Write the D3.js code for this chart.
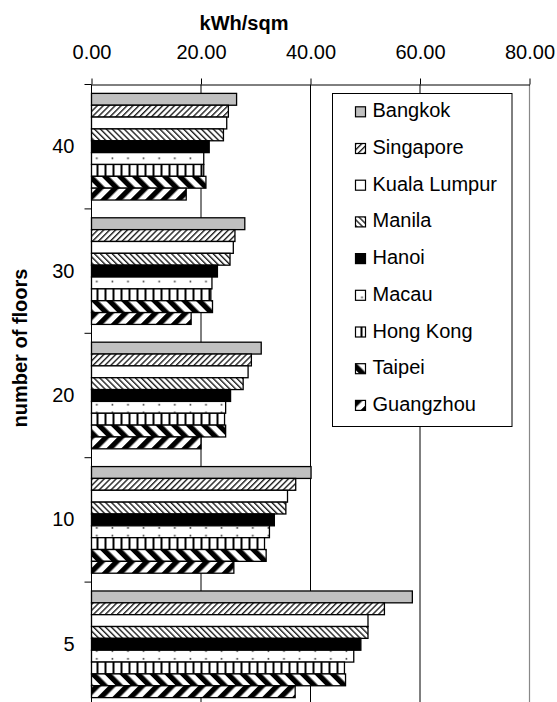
<!DOCTYPE html>
<html>
<head>
<meta charset="utf-8">
<script src="https://cdn.jsdelivr.net/npm/d3@7/dist/d3.min.js"></script>
<style>
  html, body { margin: 0; padding: 0; background: #fff; }
  svg { display: block; font-family: "Liberation Sans", Arial, sans-serif; }
</style>
</head>
<body>
<script>
// Floors (categories, top to bottom) and cities (series)
const floors = ["40", "30", "20", "10", "5"];
const cities = ["Bangkok", "Singapore", "Kuala Lumpur", "Manila", "Hanoi",
                "Macau", "Hong Kong", "Taipei", "Guangzhou"];

// Energy use in kWh/sqm, one value per floor count (40, 30, 20, 10, 5)
const bangkok     = [26.5, 28.0, 31.0, 40.1, 58.6];
const singapore   = [25.0, 26.2, 29.2, 37.3, 53.5];
const kualaLumpur = [24.7, 25.9, 28.6, 35.8, 50.5];
const manila      = [24.1, 25.3, 27.7, 35.5, 50.5];
const hanoi       = [21.5, 23.0, 25.4, 33.4, 49.2];
const macau       = [20.5, 22.0, 24.5, 32.5, 47.9];
const hongKong    = [20.5, 21.8, 24.3, 31.6, 46.2];
const taipei      = [20.9, 22.1, 24.5, 31.9, 46.4];
const guangzhou   = [17.3, 18.2, 20.0, 26.0, 37.2];

const xTicks = [0, 20, 40, 60, 80];

const seriesValues = [bangkok, singapore, kualaLumpur, manila, hanoi,
                      macau, hongKong, taipei, guangzhou];

const W = 557, H = 702;
const svg = d3.select("body").append("svg")
  .attr("width", W).attr("height", H);

const defs = svg.append("defs");

// Fill patterns, one per city
function stripePattern(id, size, lineW, angle, color) {
  const p = defs.append("pattern")
    .attr("id", id)
    .attr("patternUnits", "userSpaceOnUse")
    .attr("width", size).attr("height", size)
    .attr("patternTransform", `rotate(${angle})`);
  p.append("rect").attr("width", size).attr("height", size).attr("fill", "#fff");
  p.append("rect").attr("width", lineW).attr("height", size).attr("fill", color);
}
stripePattern("p-sing", 4.2, 1.4, 45, "#222");
stripePattern("p-man", 4.2, 1.4, -45, "#222");
stripePattern("p-tai", 10.6, 5.3, -45, "#000");
stripePattern("p-gua", 10.6, 5.3, 45, "#000");

const hk = defs.append("pattern").attr("id", "p-hk")
  .attr("patternUnits", "userSpaceOnUse")
  .attr("x", 91.5).attr("width", 8).attr("height", 8);
hk.append("rect").attr("width", 8).attr("height", 8).attr("fill", "#fff");
hk.append("rect").attr("x", 5).attr("width", 2).attr("height", 8).attr("fill", "#000");

const mc = defs.append("pattern").attr("id", "p-mac")
  .attr("patternUnits", "userSpaceOnUse")
  .attr("x", 91.5).attr("y", 0.5).attr("width", 15.6).attr("height", 7.7);
mc.append("rect").attr("width", 15.6).attr("height", 7.7).attr("fill", "#fff");
mc.append("rect").attr("x", 4.5).attr("y", 3).attr("width", 1.6).attr("height", 1.6).attr("fill", "#333");

const fills = ["#c0c0c0", "url(#p-sing)", "#ffffff", "url(#p-man)", "#000000",
               "url(#p-mac)", "url(#p-hk)", "url(#p-tai)", "url(#p-gua)"];

// Scales
const x = d3.scaleLinear().domain([0, 80]).range([91.5, 529.5]);
const y0 = d3.scaleBand().domain(floors).range([84.5, 706.5]);
const y1 = d3.scaleBand().domain(cities).range([0, y0.bandwidth()]).paddingOuter(0.75);
const [plotTop, plotBottom] = y0.range();

// Vertical gridlines
svg.append("g").selectAll("line")
  .data(xTicks.filter(d => d > 0 && d < 80))
  .join("line")
  .attr("x1", d => x(d)).attr("x2", d => x(d))
  .attr("y1", plotTop).attr("y2", plotBottom)
  .attr("stroke", "#000").attr("stroke-width", 1);

// Right plot border
svg.append("line")
  .attr("x1", x(80)).attr("x2", x(80))
  .attr("y1", plotTop).attr("y2", plotBottom)
  .attr("stroke", "#888").attr("stroke-width", 1.2);

// Bars
const rows = [];
floors.forEach((f, fi) => {
  cities.forEach((c, ci) => rows.push({ floor: f, city: c, ci, value: seriesValues[ci][fi] }));
});

svg.append("g").selectAll("rect")
  .data(rows)
  .join("rect")
  .attr("x", x(0))
  .attr("y", d => y0(d.floor) + y1(d.city))
  .attr("width", d => x(d.value) - x(0))
  .attr("height", y1.bandwidth())
  .attr("fill", d => fills[d.ci])
  .attr("stroke", "#000")
  .attr("stroke-width", 1.3);

// Top value axis
const xAxis = svg.append("g")
  .attr("transform", `translate(0,${plotTop})`)
  .call(d3.axisTop(x).tickValues(xTicks).tickFormat(d3.format(".2f"))
    .tickSize(6).tickSizeOuter(0).tickPadding(20));
xAxis.select(".domain").attr("stroke", "#000");
xAxis.selectAll(".tick line").attr("stroke", "#000");
xAxis.selectAll("text").attr("font-size", 20).attr("fill", "#000")
  .attr("font-family", "'Liberation Sans', Arial, sans-serif");

// Left category axis
svg.append("line")
  .attr("x1", x(0)).attr("x2", x(0))
  .attr("y1", plotTop).attr("y2", plotBottom)
  .attr("stroke", "#000");
svg.append("g").selectAll("line")
  .data(floors)
  .join("line")
  .attr("x1", x(0) - 7).attr("x2", x(0))
  .attr("y1", d => y0(d)).attr("y2", d => y0(d))
  .attr("stroke", "#000");
const yAxis = svg.append("g")
  .attr("transform", `translate(${x(0)},0)`)
  .call(d3.axisLeft(y0).tickSize(0).tickPadding(17));
yAxis.select(".domain").remove();
yAxis.selectAll("text").attr("font-size", 20).attr("fill", "#000")
  .attr("font-family", "'Liberation Sans', Arial, sans-serif");

// Axis titles
svg.append("text")
  .attr("x", 244).attr("y", 30)
  .attr("text-anchor", "middle")
  .attr("font-size", 20).attr("font-weight", "bold")
  .text("kWh/sqm");

svg.append("text")
  .attr("transform", "translate(26.5,348) rotate(-90)")
  .attr("text-anchor", "middle")
  .attr("font-size", 20).attr("font-weight", "bold")
  .text("number of floors");

// Legend
const legend = svg.append("g");
legend.append("rect")
  .attr("x", 332.5).attr("y", 93.5)
  .attr("width", 179.5).attr("height", 333)
  .attr("fill", "#fff").attr("stroke", "#000").attr("stroke-width", 1);

const items = legend.selectAll("g.item")
  .data(cities)
  .join("g")
  .attr("class", "item")
  .attr("transform", (d, i) => `translate(0,${117.3 + i * 36.7})`);
items.append("rect")
  .attr("x", 355.5).attr("y", -10.5)
  .attr("width", 10).attr("height", 10)
  .attr("fill", (d, i) => fills[i])
  .attr("stroke", "#000").attr("stroke-width", 1.2);
items.append("text")
  .attr("x", 372.5).attr("y", 0)
  .attr("font-size", 20)
  .text(d => d);
</script>
</body>
</html>
